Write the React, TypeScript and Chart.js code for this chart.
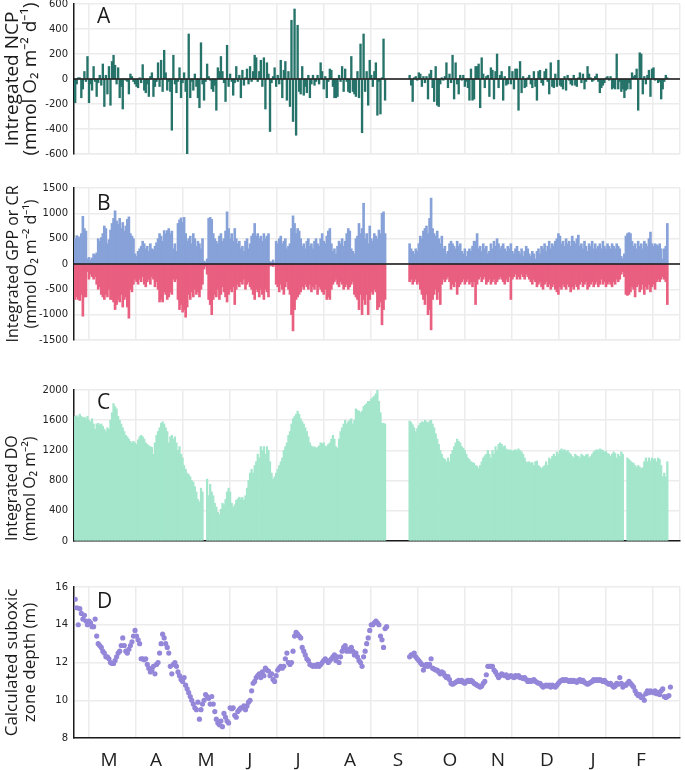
import React, { useEffect, useRef } from 'react';
import { Chart, registerables } from 'chart.js';

Chart.register(...registerables);

// ---------- DATA (daily index i = 0 .. ~388; Mar 1 ≈ i 9) ----------
// Panel A: integrated NCP (mmol O2 m-2 d-1)
const ncpPart1: (number | null)[] = [
  -190, -40, 10, 10, -150, -80, 60, -20, 180, -190,
  -40, -90, 100, -20, -140, -30, 30, -50, 120, -220,
  30, -120, 100, -210, 140, 190, 110, -40, 90, -150,
  -60, -240, 0, -10, -20, -120, 40, 20, -20, -40,
  -60, -70, 10, -30, 115, -90, -110, -40, -140, 20,
  50, -140, -60, -20, 130, -60, 150, -100, 230, 50,
  -90, -20, -100, -410, 190, -40, -110, -20, 90, -150,
  -30, 50, -100, -600, 360, -150, -20, -90, 40, -60,
  -150, -230, 290, -40, -170, -20, 120, 20, -10, -80,
  -100, -50, -250, 90, 60, 180, 60, -30, -180, 270,
  -60, 40, -20, -130, -30, 100, -20, 30, -150, 70,
  -50, 10, 80, -40, 100, -20, 60, 190, 170, -20,
  60, 150, -60, 170, -240, 130, 40, -420, -30, 20,
  90, -60, 30, -40, 150, -150, 70, 140, -170, 60,
  -220, 470, -340, 560, -450, 430, -100, -120, 100, -130,
  -60, -110, 30, -150, -40, 30, -50, -20, 30, -40,
  130, 60, -80, 20, -150, -20, 80, 70, -60, -150,
  -150, -140, 30, -20, 100, -100, 80, -20, -100, -110,
  180, -100, -120, -140, 60, -150, 280, -430, 360, -100,
  60, -210, 150, 30, -60, 60, 130, -290, -20, -280,
  10, 320, -170,
];
const ncpPart2: (number | null)[] = [
  30, -50, -180, 10, 20, -10, 50, 40, -60, 20,
  -30, 20, -160, 40, 70, -70, -180, 100, -210, -220,
  -40, 10, -10, 20, 130, -70, 40, -30, 190, -160,
  130, -40, -120, 30, -10, 30, -60, -20, -70, -170,
  80, -170, -160, 100, 100, 120, -230, 170, 40, -70,
  20, 30, -140, 90, 70, -160, 60, 200, -70, 30,
  60, -170, 20, -50, -40, 100, -40, 60, -80, 80,
  80, -250, 140, -110, 20, -70, -60, 10, 30, -40,
  -70, 60, -60, -170, 60, 70, -30, -50, 60, 80,
  -20, -120, 130, -60, -70, 40, -60, 150, -50, -60,
  -80, 20, -90, 30, -10, -40, -50, 30, -50, -60,
  10, 50, -30, 40, -80, -20, 100, 40, 10, -20,
  -10, 20, 40, -20, -110, -70, -50, -30, 10, 20,
  -10, 20, -80, -70, -80, 200, -80, -20, -100, -80,
  -150, -90, -80, -30, -80, 50, 20, 30, 80, -250,
  210, 200, -120, 20, -40, 30, 70, -140, 80, 90,
  -10, 0, -30, -20, -160, -80, -20, 30, 10,
];

// Panel B: integrated GPP (positive) and CR (negative)
const gppPart1: (number | null)[] = [
  500, 560, 540, 520, 600, 940, 700, 650, 100, 130,
  80, 120, 200, 180, 220, 500, 450, 520, 600, 750,
  700, 400, 480, 670, 800, 900, 1050, 850, 780, 900,
  700, 820, 650, 750, 880, 930, 600, 550, 500, 200,
  150, 250, 300, 350, 450, 400, 300, 350, 250, 400,
  300, 280, 350, 420, 500, 600, 550, 450, 660, 600,
  660, 700, 600, 650, 300, 400, 250, 800, 870, 910,
  820, 920, 600, 450, 500, 550, 400, 600, 500, 350,
  450, 400, 300, 500, 60, 40, 100, 900, 920, 880,
  600, 500, 450, 400, 550, 600, 450, 500, 650, 1030,
  700, 500, 600, 450, 700, 500, 400, 450, 300, 350,
  250, 450, 500, 300, 400, 550, 600, 800, 550, 600,
  500, 550, 450, 600, 500, 550, 600, 50, 30, 80,
  20, 450, 400, 500, 550, 400, 450, 500, 300, 350,
  400, 700, 950, 800, 600, 700, 650, 500, 350, 400,
  300, 450, 500, 350, 400, 300, 450, 500, 400, 350,
  500, 600, 450, 400, 550, 650, 700, 400, 250, 300,
  200, 350, 450, 400, 500, 350, 450, 600, 700, 650,
  300, 250, 200, 500, 550, 800, 600, 700, 1200, 500,
  600, 400, 750, 500, 450, 600, 550, 500, 670, 600,
  1000, 1030, 600,
];
const gppPart2: (number | null)[] = [
  400, 300, 250, 200, 300, 250, 400, 550, 500, 650,
  700, 750, 600, 900, 1300, 700, 600, 550, 650, 500,
  400, 550, 300, 350, 200, 250, 400, 450, 400, 350,
  300, 450, 350, 400, 250, 200, 300, 150, 250, 300,
  250, 350, 450, 450, 600, 300, 350, 250, 400, 300,
  350, 200, 250, 400, 300, 450, 350, 500, 400, 300,
  350, 400, 300, 250, 350, 300, 400, 250, 200, 300,
  350, 250, 200, 300, 150, 250, 350, 300, 200, 150,
  250, 200, 100, 250, 300, 200, 350, 300, 400, 250,
  350, 450, 300, 400, 350, 450, 500, 600, 550, 400,
  450, 350, 500, 400, 450, 350, 550, 450, 400, 500,
  570, 350, 400, 300, 450, 350, 250, 400, 350, 450,
  300, 400, 300, 350, 400, 300, 450, 350, 300, 400,
  350, 300, 400, 350, 300, 400, 350, 300, 150, 100,
  200, 550, 600, 620, 600, 450, 350, 400, 300, 450,
  350, 400, 300, 450, 400, 350, 500, 630, 400, 350,
  400, 380, 350, 400, 300, 100, 300, 350, 800,
];
const crPart1: (number | null)[] = [
  -700, -650, -700, -720, -600, -1030, -650, -650, -150, -300,
  -200, -250, -300, -250, -400, -500, -450, -600, -650, -700,
  -600, -650, -500, -700, -700, -750, -900, -800, -700, -750,
  -600, -850, -700, -650, -850, -1070, -500, -550, -400, -300,
  -350, -400, -300, -350, -250, -400, -450, -350, -300, -400,
  -250, -300, -450, -350, -500, -750, -700, -750, -550, -600,
  -700, -650, -550, -600, -300, -350, -300, -700, -900, -800,
  -950, -900, -1050, -850, -600, -700, -550, -650, -500, -600,
  -550, -650, -500, -400, -100, -50, -200, -700, -800, -1000,
  -700, -600, -650, -500, -700, -600, -450, -550, -650, -750,
  -600, -500, -550, -450, -800, -500, -400, -450, -350, -400,
  -300, -500, -400, -350, -450, -500, -600, -700, -500, -550,
  -650, -500, -600, -700, -500, -550, -650, -40, -30, -50,
  -20, -400, -450, -550, -400, -500, -600, -450, -350, -500,
  -600, -1000, -1320, -900, -700, -650, -600, -550, -450, -500,
  -400, -450, -500, -400, -550, -450, -500, -400, -600, -450,
  -500, -550, -600, -500, -700, -650, -700, -500, -400, -350,
  -300, -400, -450, -350, -400, -500, -450, -400, -500, -450,
  -400, -350, -600, -650, -700, -900, -600, -1000, -700, -800,
  -600, -1000, -700, -550, -600, -500, -550, -900, -850, -750,
  -1200, -900, -700,
];
const crPart2: (number | null)[] = [
  -350, -300, -400, -350, -300, -400, -350, -500, -600, -700,
  -800, -600, -1000, -900, -1300, -700, -600, -500, -700, -550,
  -800, -400, -300, -350, -300, -250, -350, -500, -400, -450,
  -350, -600, -450, -400, -350, -300, -400, -350, -300, -400,
  -350, -450, -350, -800, -400, -300, -250, -350, -300, -250,
  -400, -350, -300, -400, -350, -300, -400, -350, -300, -250,
  -300, -350, -400, -300, -350, -250, -700, -300, -250, -200,
  -300, -250, -300, -200, -250, -300, -200, -250, -300, -350,
  -400, -300, -350, -450, -400, -350, -450, -500, -400, -350,
  -450, -400, -500, -450, -400, -500, -550, -600, -450, -500,
  -400, -450, -500, -400, -450, -550, -450, -500, -400, -450,
  -500, -400, -350, -450, -400, -350, -500, -450, -400, -350,
  -450, -400, -350, -450, -400, -300, -400, -350, -450, -400,
  -350, -400, -450, -350, -400, -300, -350, -300, -200, -150,
  -250, -600, -620, -600, -550, -450, -500, -650, -450, -400,
  -550, -500, -400, -600, -450, -500, -400, -550, -450, -400,
  -500, -350, -300, -350, -300, -250, -300, -350, -800,
];

// Panel C: integrated DO (mmol O2 m-2)
const doPart1: (number | null)[] = [
  1650, 1660, 1640, 1680, 1650, 1630, 1640, 1620, 1650, 1600,
  1580, 1620, 1550, 1480, 1550, 1560, 1540, 1550, 1520, 1480,
  1450, 1500, 1480, 1600, 1700, 1820, 1780, 1750, 1650, 1600,
  1550, 1500, 1450, 1400, 1380, 1350, 1320, 1300, 1320, 1300,
  1280, 1340, 1380, 1400, 1380, 1350, 1300, 1280, 1260, 1250,
  1240, 1150, 1300, 1400, 1450, 1500, 1560, 1580, 1550, 1500,
  1450, 1300, 1380, 1400, 1350, 1380, 1300, 1200, 1250, 1150,
  1100, 1000, 950, 900, 880, 850, 800, 780, 720, 650,
  550, 520, 700, 650, null, null, 820, 600, 750, 650,
  600, 500, 450, 380, 350, 420, 500, 480, 550, 650,
  700, 650, 500, 450, 480, 540, 560, 580, 560, 580,
  540, 600, 700, 800, 900, 950, 900, 1000, 1050, 1150,
  1100, 1250, 1200, 1250, 1150, 1250, 1200, 1050, 900, 820,
  850, 900, 950, 1000, 1050, 1100, 1200, 1250, 1300, 1400,
  1450, 1550, 1620, 1650, 1680, 1720, 1680, 1620, 1580, 1550,
  1500, 1450, 1380, 1300, 1260, 1240, 1250, 1230, 1240, 1260,
  1300, 1290, 1300, 1260, 1250, 1280, 1300, 1350, 1400, 1350,
  1250, 1230, 1350, 1450, 1500, 1550, 1600, 1550, 1580, 1600,
  1620, 1550, 1600, 1750, 1730, 1720, 1700, 1720, 1780, 1800,
  1820, 1850, 1850, 1880, 1900, 1920, 1950, 2000, 1850, 1700,
  1560, 1560, 1550,
];
const doPart2: (number | null)[] = [
  1590, 1570, 1540, 1500, 1450, 1490, 1530, 1560, 1580, 1570,
  1600, 1580, 1560, 1590, 1600, 1550, 1500, 1420, 1350, 1280,
  1200, 1150, 1100, 1080, 1050, 1100, 1050, 1150, 1200, 1250,
  1300, 1350, 1320, 1300, 1250, 1230, 1200, 1150, 1100, 1080,
  1050, 1040, 1030, 1000, 990, 960, 1000, 1050, 1100, 1130,
  1150, 1200, 1150, 1100, 1200, 1150, 1250, 1200, 1280, 1300,
  1280, 1250, 1260, 1220, 1200, 1210, 1200, 1190, 1200, 1210,
  1200, 1220, 1200, 1180, 1150, 1100, 1050, 1040, 1050, 1030,
  1040, 1000, 1050, 1060, 1000, 980, 960, 980, 1000, 1050,
  1000, 1100, 1080, 1120, 1150, 1120, 1180, 1150, 1200, 1220,
  1200, 1210, 1180, 1200, 1170, 1150, 1120, 1100, 1150, 1130,
  1120, 1100, 1150, 1130, 1120, 1140, 1150, 1100, 1120, 1150,
  1180, 1200, 1210, 1200, 1220, 1210, 1200, 1180, 1190, 1160,
  1150, 1120, 1150, 1180, 1160, 1100, 1150, 1120, 1180, 1150,
  null, null, 1100, 1080, 1060, 1040, 1030, 1000, 980, 1000,
  980, 960, 970, 1050, 1100, 1050, 1100, 1060, 1100, 1080,
  1090, 1050, 1100, 1080, 1000, 850, 900, 850, 1050,
];

// Panel D: calculated suboxic zone depth (m)
const depthPart1: (number | null)[] = [
  15.35, 14.9, 14.0, 14.85, 14.6, 14.3, 14.5, 14.2, 14.0, 14.2,
  14.1, 13.9, 13.9, 14.3, 13.4, 13.0, 12.9, 12.8, 12.6, 12.5,
  12.3, 12.3, 12.2, 12.0, 11.95, 11.95, 12.1, 12.3, 12.5, 12.6,
  12.9, 13.3, 12.9, 12.6, 12.5, 12.7, 12.9, 13.1, 13.4, 13.7,
  13.4, 13.2, 13.0, 12.2, 12.2, 12.15, 12.2, 11.9, 11.7, 11.5,
  11.6, 11.8, 11.4, 11.9, 12.0, 12.5, 13.0, 13.5, 13.3, 13.0,
  12.8, 12.5, 11.8, 11.4, 11.9, 12.0, 11.8, 11.5, 11.3, 11.1,
  11.0, 11.2, 10.8, 10.6, 10.4, 10.2, 10.0, 9.8, 9.6, 9.5,
  9.9, 9.0, 9.5, 9.8, 10.0, 10.3, 10.2, 10.1, 9.8, 10.2,
  9.8, 9.4, 9.0, 8.8, 8.7, 8.9, 8.6, 9.3, 9.1, 8.9,
  8.8, 9.6, 9.55, 9.6, 9.2, 9.1, 9.4, 9.5, 9.6, 9.6,
  9.7, 9.5, 9.7, 9.9, 10.0, 10.5, 10.9, 11.0, 11.2, 11.3,
  11.4, 11.2, 11.5, 11.3, 11.7, 11.6, 11.55, 11.3, 11.4, 11.1,
  11.0, 11.3, 11.6, 11.7, 11.8, 11.7, 11.8, 12.2, 12.5, 12.0,
  11.9, 12.0, 12.6, 13.4, 13.6, 13.5, 13.4, 13.3, 12.8, 12.6,
  12.4, 12.2, 12.1, 11.9, 11.85, 11.8, 11.85, 11.8, 11.9, 11.8,
  11.9, 12.0, 12.1, 12.2, 12.1, 12.0, 12.1, 12.2, 12.3, 12.4,
  12.1, 12.3, 12.0, 12.3, 12.6, 12.8, 12.9, 12.6, 12.7, 12.6,
  12.8, 12.6, 12.4, 12.5, 12.3, 12.1, 12.0, 11.8, 12.3, 12.6,
  13.0, 13.3, 13.7, 14.0, 14.0, 14.1, 14.2, 14.1, 14.0, 13.4,
  13.2, 12.8, 13.8, 13.9,
];
const depthPart2: (number | null)[] = [
  12.3, 12.4, 12.4, 12.5, 12.3, 12.2, 12.1, 12.0, 11.9, 11.6,
  11.8, 11.9, 11.8, 11.9, 12.2, 11.7, 11.65, 11.6, 11.6, 11.5,
  11.4, 11.5, 11.45, 11.3, 11.2, 11.25, 11.1, 10.9, 10.85, 10.9,
  10.95, 11.0, 11.05, 11.0, 11.05, 10.95, 10.9, 11.0, 11.05, 11.0,
  11.05, 11.0, 10.9, 10.85, 10.8, 10.75, 10.7, 10.75, 10.9, 11.0,
  11.35, 11.8, 11.8, 11.8, 11.8, 11.6, 11.5, 11.35, 11.2, 11.3,
  11.4, 11.35, 11.3, 11.35, 11.2, 11.25, 11.3, 11.25, 11.2, 11.3,
  11.25, 11.3, 11.2, 11.2, 11.15, 11.2, 11.1, 11.0, 11.05, 11.0,
  11.05, 11.1, 11.0, 10.95, 10.9, 10.9, 10.8, 10.7, 10.75, 10.8,
  10.75, 10.8, 10.7, 10.8, 10.75, 10.7, 10.8, 10.9, 11.0, 11.05,
  11.1, 11.05, 11.1, 11.05, 11.0, 11.05, 11.0, 11.05, 11.0, 10.95,
  11.05, 11.1, 11.0, 11.05, 10.95, 10.9, 10.85, 10.9, 10.95, 11.0,
  11.1, 11.05, 11.1, 11.05, 11.1, 11.05, 11.0, 11.05, 10.95, 10.9,
  10.85, 10.9, 10.8, 10.7, 10.75, 10.9, 10.85, 11.2, 10.9, 10.7,
  10.8, 10.8, 10.9, 11.0, 10.9, 10.8, 10.7, 10.5, 10.35, 10.25,
  10.3, 10.15, 10.2, 10.0, 10.35, 10.5, 10.4, 10.5, 10.45, 10.4,
  10.5, 10.35, 10.4, 10.3, 10.5, 10.6, 10.2, 10.15, 10.2, 10.25, 10.7,
];

// x axis: month labels and their positions (day index)
const monthLabels = ['M', 'A', 'M', 'J', 'J', 'A', 'S', 'O', 'N', 'D', 'J', 'F'];
const monthLabelDays = [22.0, 52.7, 85.3, 113.9, 145.2, 179.1, 210.4, 244.3, 275.6, 307.5, 337.5, 368.8];

// ---------- BUILD SERIES ----------
const withGap = (a: (number | null)[], gap: number, b: (number | null)[]) =>
  [...a, ...Array(gap).fill(null), ...b];
const ncp = withGap(ncpPart1, 15, ncpPart2);
const gpp = withGap(gppPart1, 15, gppPart2);
const cr = withGap(crPart1, 15, crPart2);
const dox = withGap(doPart1, 15, doPart2);
const depth = withGap(depthPart1, 14, depthPart2);

const toXY = (arr: (number | null)[]) =>
  arr.map((v, i) => ({ x: i, y: v })).filter((p) => p.y !== null) as { x: number; y: number }[];

const X_MIN = -0.78;
const X_MAX = 394.26;
const GRID_STEP = 30.64;
const GRID_START = 8.8;
const gridDays = Array.from({ length: 13 }, (_, k) => GRID_START + GRID_STEP * k);

const GRID = '#ececec';
const INK = '#1a1a1a';
const PAD_TOP = 14;

type Panel = {
  letter: string;
  letterBase: number;
  plotTop: number;
  plotBottom: number;
  yMin: number;
  yMax: number;
  step: number;
  title: string[];
  titleSize: number;
  titleLH: number;
  titlePad: number;
  titleAlign: 'start' | 'center' | 'end';
  xBorder: string;
  zero: boolean;
  months: boolean;
  type: 'bar' | 'scatter';
  datasets: any[];
};

const panels: Panel[] = [
  {
    letter: 'A', letterBase: 19, plotTop: 4, plotBottom: 156, yMin: -600, yMax: 600, step: 200,
    title: ['Intregated NCP', '(mmol O\u2082 m\u207B\u00B2 d\u207B\u00B9)'],
    titleSize: 19, titleLH: 0.95, titlePad: 4, titleAlign: 'center', xBorder: GRID, zero: true, months: false,
    type: 'bar',
    datasets: [{ data: toXY(ncp), backgroundColor: '#26736a', barThickness: 1.7, grouped: false }],
  },
  {
    letter: 'B', letterBase: 22, plotTop: 188, plotBottom: 342, yMin: -1500, yMax: 1500, step: 500,
    title: ['Integrated GPP or CR', '(mmol O\u2082 m\u207B\u00B2 d\u207B\u00B9)'],
    titleSize: 16, titleLH: 1.15, titlePad: 4, titleAlign: 'center', xBorder: GRID, zero: true, months: false,
    type: 'bar',
    datasets: [
      { data: toXY(gpp), backgroundColor: '#87a2d8', barThickness: 2, grouped: false },
      { data: toXY(cr), backgroundColor: '#e95f80', barThickness: 2, grouped: false },
    ],
  },
  {
    letter: 'C', letterBase: 19, plotTop: 390, plotBottom: 543, yMin: 0, yMax: 2000, step: 400,
    title: ['Integrated DO', '(mmol O\u2082 m\u207B\u00B2)'],
    titleSize: 16, titleLH: 1.125, titlePad: 3, titleAlign: 'start', xBorder: INK, zero: false, months: false,
    type: 'bar',
    datasets: [{ data: toXY(dox), backgroundColor: '#a3e6cc', barThickness: 1.6, grouped: false }],
  },
  {
    letter: 'D', letterBase: 21, plotTop: 587, plotBottom: 738, yMin: 8, yMax: 16, step: 2,
    title: ['Calculated suboxic', 'zone depth (m)'],
    titleSize: 17, titleLH: 1.06, titlePad: 3, titleAlign: 'center', xBorder: INK, zero: false, months: true,
    type: 'scatter',
    datasets: [{ data: toXY(depth), backgroundColor: '#9486d8', pointRadius: 2.6, borderWidth: 0 }],
  },
];

const bottomSpace = (p: Panel) => (p.months ? 32 : 10);
const canvasHeight = (p: Panel) => p.plotBottom - p.plotTop + PAD_TOP + bottomSpace(p);

function panelPlugin(p: Panel) {
  return {
    id: 'panelDecor',
    afterDatasetsDraw(chart: any) {
      const { ctx, chartArea, scales } = chart;
      ctx.save();
      if (p.zero) {
        const y = scales.y.getPixelForValue(0);
        ctx.strokeStyle = '#111';
        ctx.lineWidth = 1.6;
        ctx.beginPath();
        ctx.moveTo(chartArea.left, y);
        ctx.lineTo(chartArea.right, y);
        ctx.stroke();
      }
      ctx.font = '21px "Open Sans"';
      ctx.fillStyle = INK;
      ctx.textBaseline = 'alphabetic';
      ctx.textAlign = 'left';
      ctx.fillText(p.letter, chartArea.left + 23, chartArea.top + p.letterBase);
      ctx.restore();
    },
  };
}

function buildConfig(p: Panel): any {
  const scales: any = {
    x: {
      type: 'linear',
      min: X_MIN,
      max: X_MAX,
      offset: false,
      afterBuildTicks: (ax: any) => {
        ax.ticks = [...gridDays, X_MAX].map((v) => ({ value: v }));
      },
      ticks: { display: false },
      grid: { color: GRID, lineWidth: 1.5, drawTicks: false, offset: false },
      border: { color: p.xBorder, width: 1.5 },
      afterFit: (ax: any) => {
        ax.height = 0;
      },
    },
    y: {
      type: 'linear',
      min: p.yMin,
      max: p.yMax,
      ticks: {
        stepSize: p.step,
        callback: (v: any) => String(v),
        font: { family: 'DejaVu Sans', size: 10 },
        color: '#222',
        padding: 6,
      },
      grid: { color: GRID, lineWidth: 1.5, drawTicks: false },
      border: { color: INK, width: 1.5 },
      title: {
        display: true,
        text: p.title,
        font: { family: 'Open Sans', size: p.titleSize, lineHeight: p.titleLH },
        color: INK,
        align: p.titleAlign,
        padding: { top: p.titlePad, bottom: 0 },
      },
      afterFit: (ax: any) => {
        ax.width = 74;
      },
    },
  };
  if (p.months) {
    scales.x2 = {
      type: 'linear',
      position: 'bottom',
      min: X_MIN,
      max: X_MAX,
      offset: false,
      afterBuildTicks: (ax: any) => {
        ax.ticks = monthLabelDays.map((v) => ({ value: v }));
      },
      ticks: {
        autoSkip: false,
        maxRotation: 0,
        callback: (_v: any, i: number) => monthLabels[i],
        font: { family: 'Open Sans', size: 19 },
        color: '#222',
        padding: 11,
      },
      grid: { display: false, drawTicks: false },
      border: { display: false },
      afterFit: (ax: any) => {
        ax.height = 32;
      },
    };
  }
  return {
    type: p.type,
    data: { datasets: p.datasets },
    options: {
      responsive: false,
      animation: false,
      events: [],
      layout: { padding: { top: PAD_TOP, bottom: p.months ? 0 : 10, left: 0, right: 5 } },
      plugins: { legend: { display: false }, tooltip: { enabled: false } },
      scales,
    },
    plugins: [panelPlugin(p)],
  };
}

function PanelChart({ p }: { p: Panel }) {
  const ref = useRef<HTMLCanvasElement | null>(null);
  useEffect(() => {
    if (!ref.current) return;
    const chart = new Chart(ref.current, buildConfig(p));
    return () => chart.destroy();
  }, [p]);
  const h = canvasHeight(p);
  return (
    <canvas
      ref={ref}
      width={685}
      height={h}
      style={{ position: 'absolute', left: 0, top: p.plotTop - PAD_TOP, width: 685, height: h }}
    />
  );
}

export default function App() {
  return (
    <div style={{ position: 'absolute', left: 0, top: 0, width: 685, height: 770, background: '#fff', overflow: 'hidden' }}>
      {panels.map((p) => (
        <PanelChart key={p.letter} p={p} />
      ))}
    </div>
  );
}
